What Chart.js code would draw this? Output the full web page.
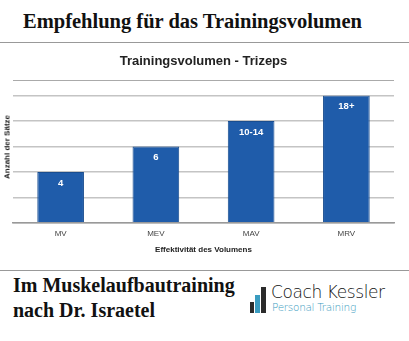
<!DOCTYPE html>
<html>
<head>
<meta charset="utf-8">
<script src="https://cdn.jsdelivr.net/npm/chart.js@4.4.1/dist/chart.umd.min.js"></script>
<style>
  html, body { margin: 0; padding: 0; background: #fff; }
  body { width: 409px; height: 341px; position: relative; overflow: hidden; }
  .serif { font-family: "Liberation Serif", "Times New Roman", serif; font-weight: bold; color: #111; position: absolute; white-space: nowrap; }
  #kopf { left: 23px; top: 10px; font-size: 20.5px; }
  .linie { position: absolute; height: 1px; background: #999; }
  #wrap { position: absolute; left: 0; top: 50px; width: 409px; height: 208px; }
  #yTitel { position: absolute; left: 7px; top: 147px; transform: translate(-50%, -50%) rotate(-90deg);
            font-family: "Liberation Sans", Arial, sans-serif; font-weight: bold; font-size: 8px; color: #222; white-space: nowrap; }
  #fuss { left: 13px; top: 273px; font-size: 20px; line-height: 25px; }
  .logo-bar { position: absolute; }
  #coach { position: absolute; left: 271px; top: 282px; font-family: "DejaVu Sans", sans-serif; font-weight: 200; font-size: 17px; color: #111; letter-spacing: -0.4px; }
  #personal { position: absolute; left: 272px; top: 301px; font-family: "DejaVu Sans", sans-serif; font-weight: 200; font-size: 10.5px; color: #3a9cc0; letter-spacing: -0.3px; }
</style>
</head>
<body>
<div id="kopf" class="serif">Empfehlung für das Trainingsvolumen</div>
<div class="linie" style="left:0;top:42px;width:409px;"></div>
<div class="linie" style="left:13px;top:80px;width:381px;background:#aaa;"></div>
<div id="wrap"><canvas id="grafik"></canvas></div>
<div id="yTitel">Anzahl der Sätze</div>
<div class="linie" style="left:0;top:270px;width:409px;"></div>
<div id="fuss" class="serif">Im Muskelaufbautraining<br>nach Dr. Israetel</div>
<div class="logo-bar" style="left:250px;top:302px;width:4px;height:11px;background:#2b2b2b;"></div>
<div class="logo-bar" style="left:255px;top:295px;width:5px;height:18px;background:#3a9cc0;"></div>
<div class="logo-bar" style="left:261px;top:287px;width:5px;height:26px;background:#2b2b2b;"></div>
<div id="coach">Coach Kessler</div>
<div id="personal">Personal Training</div>

<script>
// Kategorien und Werte
const kategorien = ['MV', 'MEV', 'MAV', 'MRV'];
const balkenHoehe = [4, 6, 8, 10];        // Höhe der Balken im Bild (Skala 0-10)
const beschriftung = ['4', '6', '10-14', '18+'];

const schrift = '"Liberation Sans", Arial, sans-serif';

// Werte-Beschriftung in den Balken
const wertePlugin = {
    id: 'werte',
    afterDatasetsDraw(chart) {
        const ctx = chart.ctx;
        const meta = chart.getDatasetMeta(0);
        ctx.save();
        ctx.fillStyle = '#fff';
        ctx.font = 'bold 9.5px ' + schrift;
        ctx.textAlign = 'center';
        ctx.textBaseline = 'middle';
        meta.data.forEach((bar, i) => {
            ctx.fillText(beschriftung[i], bar.x, bar.y + 11);
        });
        ctx.restore();
    }
};

const ctx = document.getElementById('grafik').getContext('2d');
new Chart(ctx, {
    type: 'bar',
    data: {
        labels: kategorien,
        datasets: [{
            data: balkenHoehe,
            backgroundColor: '#1f5caa',
            borderColor: '#194d8f',
            borderWidth: 1,
            barPercentage: 0.49,
            categoryPercentage: 1
        }]
    },
    options: {
        responsive: true, maintainAspectRatio: false,
        animation: false,
        layout: { padding: { left: 13, right: 15, top: 0, bottom: 3 } },
        plugins: {
            legend: { display: false },
            tooltip: { enabled: false },
            title: {
                display: true, text: 'Trainingsvolumen - Trizeps', color: '#222',
                font: { family: schrift, size: 13, weight: 'bold' },
                padding: { top: 4, bottom: 26 }
            }
        },
        scales: {
            x: {
                grid: { display: false, drawTicks: false },
                border: { display: true, color: '#999', width: 1.5 },
                ticks: { color: '#444', font: { family: schrift, size: 8 }, padding: 6 },
                title: { display: true, text: 'Effektivität des Volumens', color: '#222',
                         font: { family: schrift, size: 8, weight: 'bold' }, padding: { top: 1, bottom: 0 } }
            },
            y: {
                min: 0, max: 10,
                ticks: { display: false, stepSize: 2 },
                grid: { color: '#c4c4c4', lineWidth: 1.5, drawTicks: false },
                border: { display: false }
            }
        }
    },
    plugins: [wertePlugin]
});
</script>
</body>
</html>
